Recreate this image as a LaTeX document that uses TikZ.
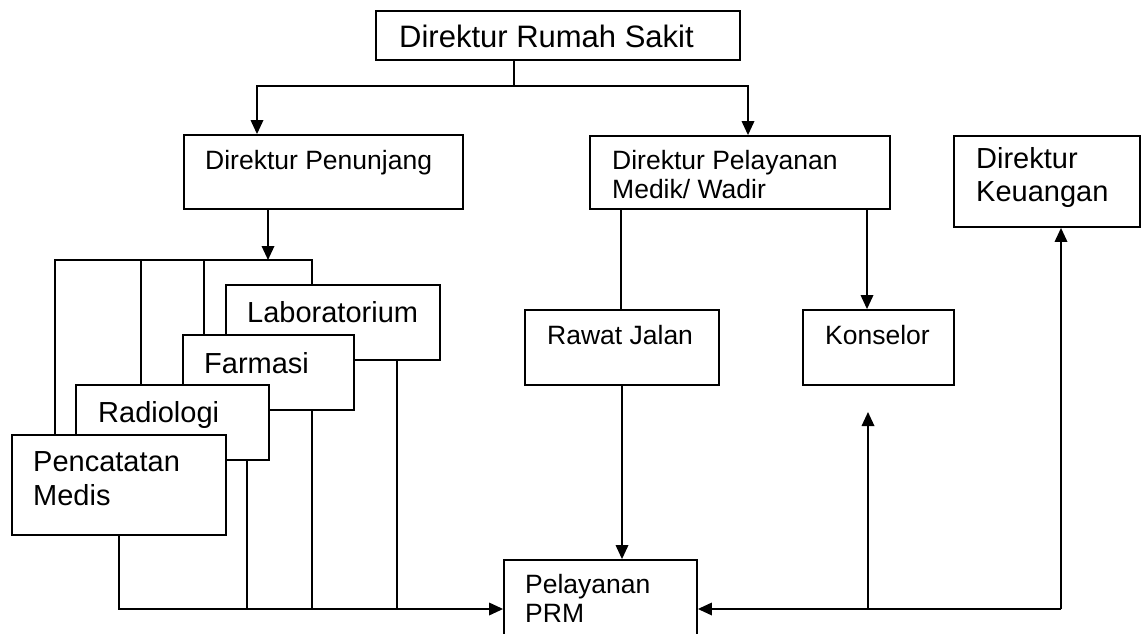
\documentclass[tikz,border=0pt]{standalone}
\usepackage{fontspec}
\setmainfont{Liberation Sans}
\usetikzlibrary{arrows.meta}
\begin{document}
\begin{tikzpicture}[x=1pt,y=-1pt,
  ln/.style={line width=1.8pt},
  arr/.style={ln,-{Triangle[length=14pt,width=12.5pt]}},
  box/.style={draw,line width=1.8pt,fill=white,inner sep=0pt,rectangle},
  lbl/.style={anchor=base west,inner sep=0pt},
  fa/.style={font=\fontsize{31}{34}\selectfont},
  fb/.style={font=\fontsize{26.5}{30}\selectfont},
  fc/.style={font=\fontsize{29}{32}\selectfont}]
\clip (0,0) rectangle (1141,634);
\fill[white] (0,0) rectangle (1141,634);

% helper coordinates
\coordinate (j1) at (514,86);
\coordinate (xpa) at (257,0);
\coordinate (xpb) at (748,0);
\coordinate (xpc) at (268,0);
\coordinate (bus) at (0,260);
\coordinate (b1) at (55,260);
\coordinate (b2) at (141,260);
\coordinate (b3) at (204,260);
\coordinate (b4) at (312,260);
\coordinate (c1) at (119,609);
\coordinate (c2) at (247,609);
\coordinate (c3) at (312,609);
\coordinate (c4) at (397,609);
\coordinate (xr) at (621,0);
\coordinate (xk) at (867,0);
\coordinate (d1) at (1061,609);
\coordinate (d2) at (868,609);
\coordinate (konarr) at (868,412);

% boxes
\node[box,minimum width=364pt,minimum height=49pt] (top) at (558,35.5) {};
\node[box,minimum width=279pt,minimum height=74pt] (pen) at (323.5,172) {};
\node[box,minimum width=300pt,minimum height=73pt] (pel) at (740,172.5) {};
\node[box,minimum width=186pt,minimum height=91pt] (keu) at (1047,181.5) {};
\node[box,minimum width=214pt,minimum height=75pt] (lab) at (333,322.5) {};
\node[box,minimum width=171pt,minimum height=75pt] (far) at (268.5,372.5) {};
\node[box,minimum width=193pt,minimum height=75pt] (rad) at (172.5,422.5) {};
\node[box,minimum width=214pt,minimum height=100pt] (med) at (119,485) {};
\node[box,minimum width=194pt,minimum height=75pt] (raw) at (622,347.5) {};
\node[box,minimum width=151pt,minimum height=75pt] (kon) at (878.5,347.5) {};
\node[box,minimum width=193pt,minimum height=90pt] (prm) at (600.5,605) {};

% texts
\node[lbl,fa] (topT) at (399,48) {Direktur Rumah Sakit};
\node[lbl,fb] (penT) at (205,169) {Direktur Penunjang};
\node[lbl,fb] (pelT1) at (612,169) {Direktur Pelayanan};
\node[lbl,fb] (pelT2) at (612,198) {Medik/ Wadir};
\node[lbl,fc] (keuT1) at (976,168) {Direktur};
\node[lbl,fc] (keuT2) at (976,201) {Keuangan};
\node[lbl,fc] (labT) at (247,322) {Laboratorium};
\node[lbl,fc] (farT) at (204,373) {Farmasi};
\node[lbl,fc] (radT) at (98,422) {Radiologi};
\node[lbl,fc] (medT1) at (33,471) {Pencatatan};
\node[lbl,fc] (medT2) at (33,505) {Medis};
\node[lbl,fb] (rawT) at (547,344) {Rawat Jalan};
\node[lbl,fb] (konT) at (825,344) {Konselor};
\node[lbl,fb] (prmT1) at (525,593) {Pelayanan};
\node[lbl,fb] (prmT2) at (525,622) {PRM};

% connectors
\draw[ln] (top.south -| j1) -- (j1);
\draw[arr] (j1) -| (xpa |- pen.north);
\draw[arr] (j1) -| (xpb |- pel.north);
\draw[arr] (xpc |- pen.south) -- (xpc |- bus);
\draw[ln] (b1 |- med.north) -- (b1) -- (b4) -- (b4 |- lab.north);
\draw[ln] (b2) -- (b2 |- rad.north);
\draw[ln] (b3) -- (b3 |- far.north);
\draw[arr] (c1 |- med.south) -- (c1) -- (prm.west |- c1);
\draw[ln] (c2 |- rad.south) -- (c2);
\draw[ln] (c3 |- far.south) -- (c3);
\draw[ln] (c4 |- lab.south) -- (c4);
\draw[ln] (xr |- pel.south) -- (xr |- raw.north);
\draw[arr] (xk |- pel.south) -- (xk |- kon.north);
\draw[arr] (raw.south) -- (raw.south |- prm.north);
\draw[arr] (d1) -- (d1 |- keu.south);
\draw[arr] (d1) -- (prm.east |- d1);
\draw[arr] (d2) -- (konarr);
\end{tikzpicture}
\end{document}
